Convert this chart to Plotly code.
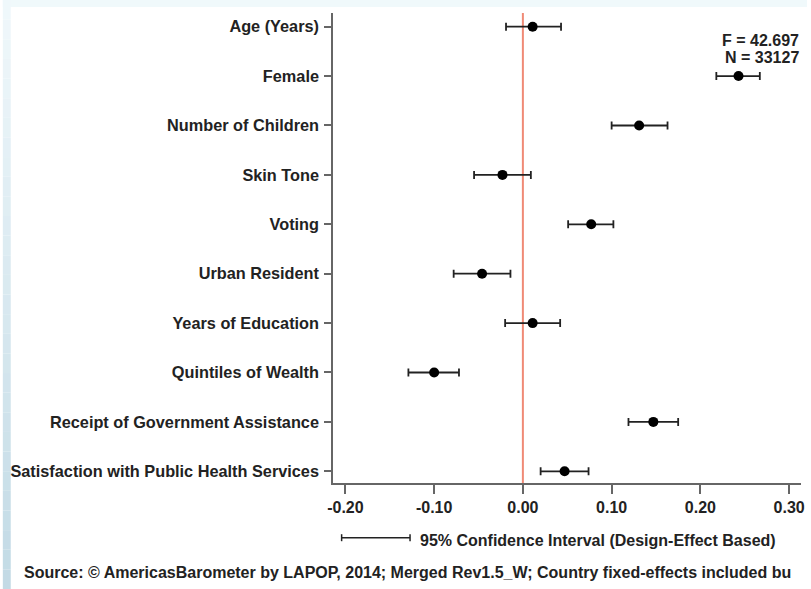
import plotly.graph_objects as go

# Regression coefficients with 95% confidence intervals
variables = [
    "Age (Years)",
    "Female",
    "Number of Children",
    "Skin Tone",
    "Voting",
    "Urban Resident",
    "Years of Education",
    "Quintiles of Wealth",
    "Receipt of Government Assistance",
    "Satisfaction with Public Health Services",
]
coef = [0.011, 0.243, 0.131, -0.023, 0.077, -0.046, 0.011, -0.100, 0.147, 0.047]
ci_low = [-0.019, 0.218, 0.100, -0.055, 0.051, -0.078, -0.020, -0.129, 0.119, 0.020]
ci_high = [0.043, 0.267, 0.163, 0.009, 0.102, -0.014, 0.042, -0.072, 0.175, 0.074]

x_ticks = [-0.20, -0.10, 0.00, 0.10, 0.20, 0.30]
x_ticklabels = ["-0.20", "-0.10", "0.00", "0.10", "0.20", "0.30"]

f_stat = "F = 42.697"
n_obs = "N = 33127"
ci_note = "95% Confidence Interval (Design-Effect Based)"
source_note = ("Source: \u00a9 AmericasBarometer by LAPOP, 2014; Merged Rev1.5_W; "
               "Country fixed-effects included bu")

W, H = 811, 589
ML, MR, MT, MB = 333, 6, 13, 106
PW, PH = W - ML - MR, H - MT - MB

FONT = "Liberation Sans, Arial, Helvetica, sans-serif"
TXT = "#222222"
AXC = "#666666"


def px(x):
    return (x - ML) / PW


def py(y):
    return (H - MB - y) / PH


fig = go.Figure()

fig.add_trace(go.Scatter(
    x=coef,
    y=variables,
    mode="markers",
    marker=dict(color="black", size=10),
    error_x=dict(
        type="data",
        symmetric=False,
        array=[h - c for h, c in zip(ci_high, coef)],
        arrayminus=[c - l for c, l in zip(coef, ci_low)],
        color="#222222",
        thickness=1.8,
        width=4,
    ),
    showlegend=False,
    hoverinfo="skip",
))

shapes = []

# zero reference line
shapes.append(dict(type="line", xref="x", yref="paper", x0=0, x1=0, y0=0, y1=1,
                   line=dict(color="#f08a76", width=2), layer="below"))

# thin framing strips along the top and left edges
shapes.append(dict(type="rect", xref="paper", yref="paper",
                   x0=px(0), x1=px(W), y0=py(0), y1=py(7),
                   fillcolor="#f0f9fb", line=dict(width=0), layer="below"))
n_seg = 30
top_c = (0xf0, 0xf8, 0xfb)
bot_c = (0xc2, 0xda, 0xe5)
for i in range(n_seg):
    t = (i + 0.5) / n_seg
    c = tuple(round(a + (b - a) * t) for a, b in zip(top_c, bot_c))
    y0 = H * i / n_seg
    y1 = H * (i + 1) / n_seg
    shapes.append(dict(type="rect", xref="paper", yref="paper",
                       x0=px(0), x1=px(8), y0=py(y1), y1=py(y0),
                       fillcolor="rgb(%d,%d,%d)" % c, line=dict(width=0), layer="below"))

# confidence-interval key below the axis
ky = 537.7
shapes.append(dict(type="line", xref="paper", yref="paper",
                   x0=px(341.7), x1=px(410.7), y0=py(ky), y1=py(ky),
                   line=dict(color="#222222", width=1.5)))
for kx in (341.7, 410.7):
    shapes.append(dict(type="line", xref="paper", yref="paper",
                       x0=px(kx), x1=px(kx), y0=py(ky - 3.5), y1=py(ky + 3.5),
                       line=dict(color="#222222", width=1.5)))

annotations = [
    dict(text=f_stat, xref="paper", yref="paper", x=px(805), y=py(41),
         xanchor="right", yanchor="middle", showarrow=False,
         font=dict(family=FONT, size=16, color=TXT, weight="bold")),
    dict(text=n_obs, xref="paper", yref="paper", x=px(805), y=py(58),
         xanchor="right", yanchor="middle", showarrow=False,
         font=dict(family=FONT, size=16, color=TXT, weight="bold")),
    dict(text=ci_note, xref="paper", yref="paper", x=px(419), y=py(540),
         xanchor="left", yanchor="middle", showarrow=False,
         font=dict(family=FONT, size=16, color=TXT, weight="bold")),
    dict(text=source_note, xref="paper", yref="paper", x=px(19), y=py(572),
         xanchor="left", yanchor="middle", showarrow=False,
         font=dict(family=FONT, size=16, color=TXT, weight="bold")),
]

fig.update_layout(
    width=W,
    height=H,
    margin=dict(l=ML, r=MR, t=MT, b=MB, pad=0),
    paper_bgcolor="white",
    plot_bgcolor="white",
    shapes=shapes,
    annotations=annotations,
    font=dict(family=FONT, size=16, color=TXT, weight="bold"),
    xaxis=dict(
        range=[(ML - 524.5) / 895, (W - MR - 524.5) / 895],
        tickvals=x_ticks,
        ticktext=x_ticklabels,
        showgrid=False,
        zeroline=False,
        showline=True,
        linecolor=AXC,
        linewidth=1.5,
        ticks="outside",
        ticklen=9,
        tickwidth=1.5,
        tickcolor=AXC,
        tickfont=dict(family=FONT, size=16, color=TXT, weight="bold"),
    ),
    yaxis=dict(
        type="category",
        categoryorder="array",
        categoryarray=variables,
        range=[9.237, -0.277],
        showgrid=False,
        zeroline=False,
        showline=True,
        linecolor=AXC,
        linewidth=1.5,
        ticks="outside",
        ticklen=7,
        tickwidth=1.5,
        tickcolor=AXC,
        ticklabelstandoff=2,
        tickfont=dict(family=FONT, size=16.3, color=TXT, weight="bold"),
    ),
)

fig.write_html("out.html")
